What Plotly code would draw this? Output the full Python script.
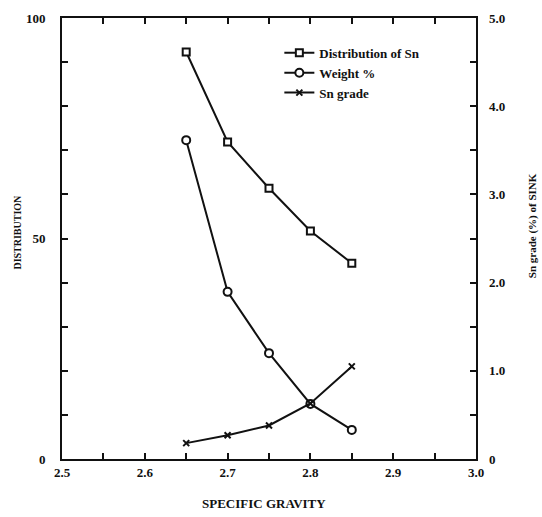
import plotly.graph_objects as go

sg = [2.65, 2.70, 2.75, 2.80, 2.85]
dist_sn = [92.3, 71.9, 61.4, 51.7, 44.4]
weight_pct = [72.3, 37.9, 24.0, 12.5, 6.6]
sn_grade = [0.18, 0.27, 0.38, 0.63, 1.05]

x_ticks = [2.5, 2.6, 2.7, 2.8, 2.9, 3.0]
x_ticktext = ["2.5", "2.6", "2.7", "2.8", "2.9", "3.0"]
y_ticks = [0, 50, 100]
y2_ticks = [0, 1, 2, 3, 4, 5]
y2_ticktext = ["0", "1.0", "2.0", "3.0", "4.0", "5.0"]

FONT = "Liberation Serif"
ink = "#111111"

def f(size):
    return dict(family=FONT, size=size, color=ink, weight=700)

fig = go.Figure()
fig.add_trace(go.Scatter(
    x=sg, y=dist_sn, name="Distribution of Sn", mode="lines+markers",
    line=dict(color=ink, width=2),
    marker=dict(symbol="square", size=7, color="white", line=dict(color=ink, width=2)),
))
fig.add_trace(go.Scatter(
    x=sg, y=weight_pct, name="Weight %", mode="lines+markers",
    line=dict(color=ink, width=2),
    marker=dict(symbol="circle", size=8, color="white", line=dict(color=ink, width=2)),
))
fig.add_trace(go.Scatter(
    x=sg, y=sn_grade, name="Sn grade", mode="lines+markers", yaxis="y2",
    line=dict(color=ink, width=2),
    marker=dict(symbol="x-thin", size=6, color=ink, line=dict(color=ink, width=2)),
))

fig.update_layout(
    template="none",
    width=542, height=517,
    margin=dict(l=62, r=66, t=18, b=58),
    paper_bgcolor="white", plot_bgcolor="white",
    font=f(12),
    showlegend=True,
    legend=dict(x=0.525, y=0.955, xanchor="left", yanchor="top",
                bgcolor="rgba(0,0,0,0)", font=f(13),
                itemwidth=30, tracegroupgap=0),
    xaxis=dict(range=[2.5, 3.0], tickvals=x_ticks, ticktext=x_ticktext,
               ticks="inside", ticklen=6, tickwidth=1.5, tickcolor=ink,
               minor=dict(dtick=0.05, tick0=2.5, ticks="inside", ticklen=6, tickwidth=1.5, tickcolor=ink),
               showline=True, linecolor=ink, linewidth=2, mirror="ticks",
               showgrid=False, zeroline=False,
               tickfont=f(13)),
    yaxis=dict(range=[0, 100], tickvals=y_ticks,
               ticks="inside", ticklen=6, tickwidth=1.5, tickcolor=ink,
               minor=dict(dtick=10, tick0=0, ticks="inside", ticklen=6, tickwidth=1.5, tickcolor=ink),
               showline=True, linecolor=ink, linewidth=2, mirror=True,
               showgrid=False, zeroline=False, ticklabelstandoff=12,
               tickfont=f(13)),
    yaxis2=dict(range=[0, 5], overlaying="y", side="right",
                tickvals=y2_ticks, ticktext=y2_ticktext,
                ticks="inside", ticklen=6, tickwidth=1.5, tickcolor=ink,
                minor=dict(dtick=0.5, tick0=0, ticks="inside", ticklen=6, tickwidth=1.5, tickcolor=ink),
                showline=False, showgrid=False, zeroline=False, ticklabelstandoff=12,
                tickfont=f(13)),
    annotations=[
        dict(text="DISTRIBUTION", xref="paper", yref="paper", x=-0.107, y=0.515,
             textangle=-90, showarrow=False, font=f(10),
             xanchor="center", yanchor="middle"),
        dict(text="Sn grade (%) of SINK", xref="paper", yref="paper", x=1.135, y=0.53,
             textangle=-90, showarrow=False, font=f(11),
             xanchor="center", yanchor="middle"),
        dict(text="SPECIFIC GRAVITY", xref="paper", yref="paper", x=0.487, y=-0.1,
             showarrow=False, font=f(13),
             xanchor="center", yanchor="middle"),
    ],
)

fig.write_html("out.html")
